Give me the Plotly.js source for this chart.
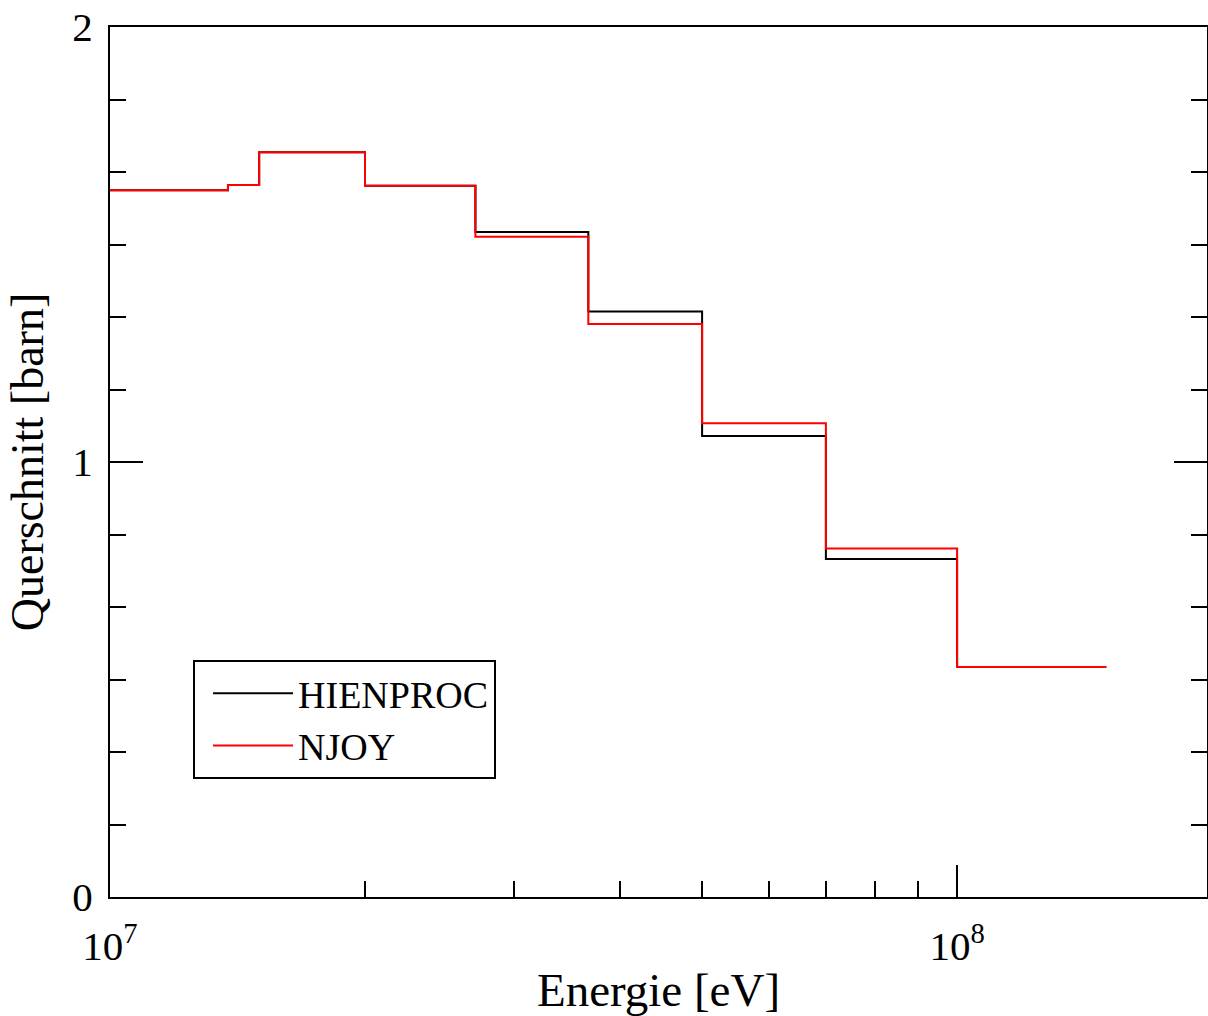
<!DOCTYPE html>
<html>
<head>
<meta charset="utf-8">
<script src="https://cdn.plot.ly/plotly-3.0.1.min.js"></script>
<style>html,body{margin:0;padding:0;background:#fff;}#chart{width:1208px;height:1016px;}</style>
</head>
<body>
<div id="chart"></div>
<script>
// Group boundaries (eV) and cross sections (barn), step values repeated at the end
const energyEdges = [1.0e7, 1.378e7, 1.5e7, 2.0e7, 2.7e7, 3.67e7, 5.0e7, 7.0e7, 1.0e8, 1.5e8];
const hienproc    = [1.625, 1.637, 1.712, 1.635, 1.529, 1.346, 1.060, 0.777, 0.529, 0.529];
const njoy        = [1.625, 1.637, 1.712, 1.635, 1.518, 1.317, 1.089, 0.801, 0.529, 0.529];
const seriesNames = ['HIENPROC', 'NJOY'];
const xTickVals   = [1e7, 1e8];
const xTickText   = ['10<sup>7</sup>', '10<sup>8</sup>'];
const xMinorVals  = [2e7, 3e7, 4e7, 5e7, 6e7, 7e7, 8e7, 9e7];
const yTickVals   = [0, 1, 2];
const yTickText   = ['0', '1', '2'];

const serif = '"Liberation Serif", "Times New Roman", serif';

const traces = [
  {x: energyEdges, y: hienproc, name: seriesNames[0], type: 'scatter', mode: 'lines',
   line: {shape: 'hv', color: '#000000', width: 2}},
  {x: energyEdges, y: njoy, name: seriesNames[1], type: 'scatter', mode: 'lines',
   line: {shape: 'hv', color: '#ff0000', width: 2}}
];

const layout = {
  width: 1208, height: 1016,
  margin: {l: 110, r: 1, t: 27, b: 119},
  paper_bgcolor: '#ffffff', plot_bgcolor: '#ffffff',
  font: {family: serif, color: '#000000'},
  showlegend: true,
  legend: {
    x: 0.0757, y: 0.2724, xanchor: 'left', yanchor: 'top',
    bgcolor: '#ffffff', bordercolor: '#000000', borderwidth: 2,
    itemwidth: 80, indentation: 13,
    font: {family: serif, size: 38, color: '#000000'}
  },
  xaxis: {
    type: 'log', range: [7, 8.295],
    showgrid: false, zeroline: false,
    showline: true, linecolor: '#000000', linewidth: 2, mirror: true,
    ticks: 'inside', ticklen: 32, tickwidth: 2, tickcolor: '#000000',
    tickmode: 'array', tickvals: xTickVals, ticktext: xTickText,
    tickfont: {family: serif, size: 41},
    ticklabelstandoff: 12,
    minor: {tickmode: 'array', tickvals: xMinorVals, ticks: 'inside', ticklen: 16, tickwidth: 2, tickcolor: '#000000', showgrid: false},
    title: {text: 'Energie [eV]', font: {family: serif, size: 47}, standoff: 16}
  },
  yaxis: {
    range: [0, 2],
    showgrid: false, zeroline: false,
    showline: true, linecolor: '#000000', linewidth: 2, mirror: 'ticks',
    ticks: 'inside', ticklen: 33, tickwidth: 2, tickcolor: '#000000',
    tickmode: 'array', tickvals: yTickVals, ticktext: yTickText,
    tickfont: {family: serif, size: 41},
    ticklabelstandoff: 7,
    minor: {dtick: 1/6, tick0: 0, ticks: 'inside', ticklen: 16, tickwidth: 2, tickcolor: '#000000', showgrid: false},
    title: {text: 'Querschnitt [barn]', font: {family: serif, size: 46}, standoff: 14}
  }
};

Plotly.newPlot('chart', traces, layout, {displayModeBar: false, staticPlot: true});
</script>
</body>
</html>
